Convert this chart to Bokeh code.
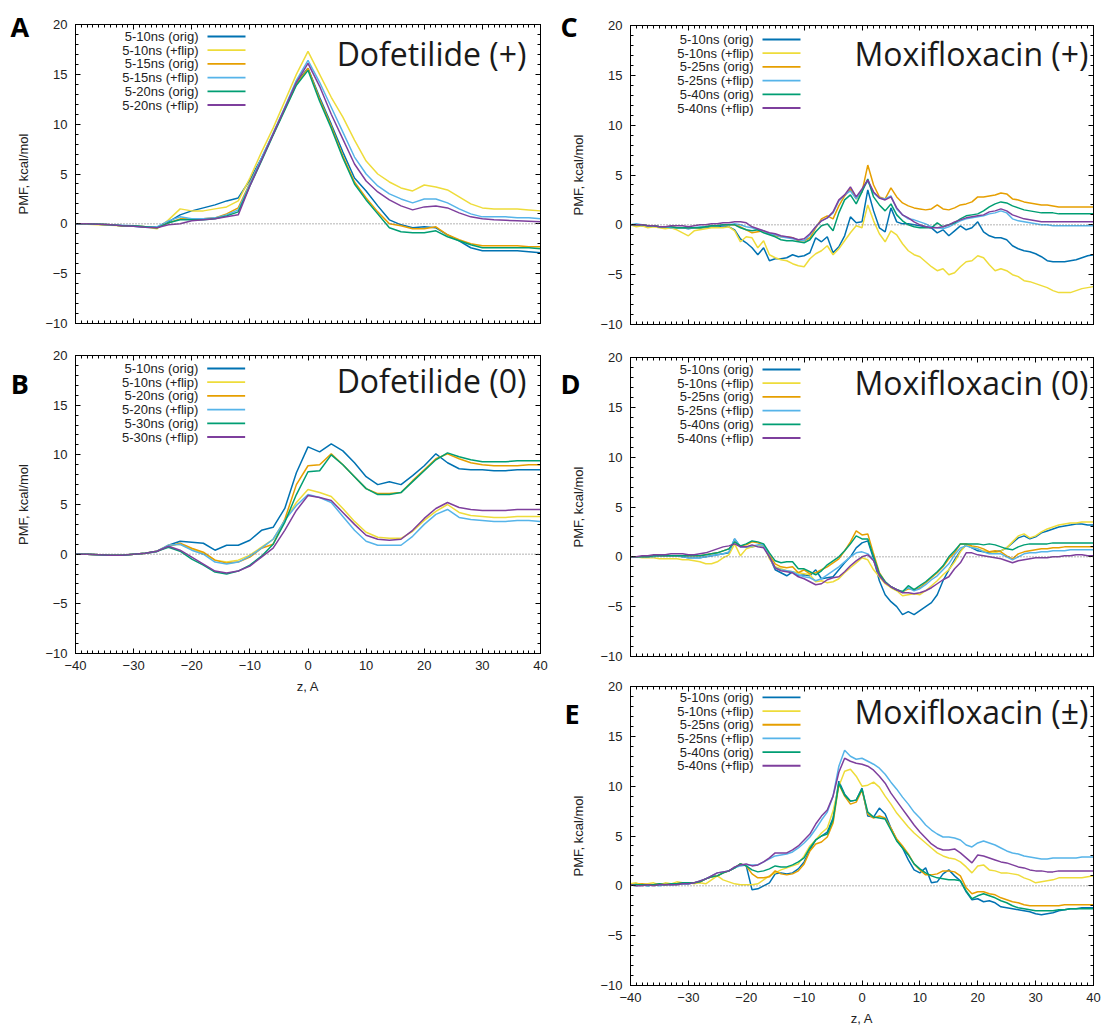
from bokeh.plotting import figure
from bokeh.layouts import row, column
from bokeh.models import Range1d, SingleIntervalTicker, LinearAxis, Label, Span, CustomJSTickFormatter
from bokeh.core.properties import value
from bokeh.embed import file_html
from bokeh.resources import INLINE

# ---------------- data ----------------
Z_DOF = list(range(-40, 41, 2))
Z_MOX = list(range(-40, 41))

COLORS = ["#0072B2", "#EEDC3A", "#E69F00", "#56B4E9", "#009E73", "#7E3F9D"]

LABELS_A = ["5-10ns (orig)", "5-10ns (+flip)", "5-15ns (orig)", "5-15ns (+flip)", "5-20ns (orig)", "5-20ns (+flip)"]
LABELS_B = ["5-10ns (orig)", "5-10ns (+flip)", "5-20ns (orig)", "5-20ns (+flip)", "5-30ns (orig)", "5-30ns (+flip)"]
LABELS_MOX = ["5-10ns (orig)", "5-10ns (+flip)", "5-25ns (orig)", "5-25ns (+flip)", "5-40ns (orig)", "5-40ns (+flip)"]

# Panel A: Dofetilide (+)
A_blue = [0.0, 0.0, -0.05, -0.1, -0.2, -0.25, -0.35, -0.4, 0.2, 0.9,
          1.3, 1.6, 1.9, 2.3, 2.6, 4.4, 6.6, 9.0, 11.6, 14.2,
          15.6, 12.7, 10.0, 7.2, 4.6, 3.3, 1.8, 0.4, -0.1, -0.4,
          -0.3, -0.4, -1.1, -1.7, -2.4, -2.7, -2.7, -2.7, -2.7, -2.8, -2.9]
A_yellow = [0.0, -0.05, -0.1, -0.15, -0.2, -0.2, -0.3, -0.5, 0.4, 1.5,
            1.3, 1.3, 1.5, 1.7, 2.3, 4.6, 7.2, 9.6, 12.3, 15.0,
            17.3, 15.0, 12.7, 10.7, 8.4, 6.3, 5.0, 4.2, 3.6, 3.3,
            3.9, 3.7, 3.4, 2.7, 2.0, 1.6, 1.5, 1.5, 1.5, 1.4, 1.3]
A_orange = [0.0, 0.0, -0.05, -0.1, -0.2, -0.2, -0.3, -0.4, 0.1, 0.5,
            0.5, 0.5, 0.6, 1.0, 1.6, 4.1, 6.5, 9.0, 11.5, 14.0,
            15.6, 12.5, 9.8, 6.8, 4.2, 2.6, 1.2, 0.0, -0.2, -0.5,
            -0.5, -0.3, -1.1, -1.6, -2.0, -2.2, -2.2, -2.2, -2.2, -2.3, -2.3]
A_sky = [0.0, 0.0, -0.05, -0.1, -0.15, -0.2, -0.3, -0.3, 0.3, 0.7,
         0.5, 0.5, 0.6, 0.9, 1.4, 4.0, 6.6, 9.1, 11.7, 14.4,
         16.4, 14.2, 11.7, 9.2, 6.7, 5.0, 3.8, 3.0, 2.5, 2.1,
         2.5, 2.5, 2.1, 1.5, 1.0, 0.7, 0.7, 0.7, 0.6, 0.6, 0.5]
A_green = [0.0, 0.0, -0.05, -0.1, -0.2, -0.2, -0.3, -0.4, 0.1, 0.4,
           0.4, 0.4, 0.5, 0.8, 1.2, 3.8, 6.3, 8.9, 11.4, 13.9,
           15.4, 12.3, 9.6, 6.6, 4.0, 2.4, 1.0, -0.4, -0.8, -0.9,
           -0.9, -0.7, -1.3, -1.7, -2.1, -2.4, -2.4, -2.4, -2.4, -2.4, -2.5]
A_purple = [0.0, 0.0, -0.05, -0.1, -0.2, -0.25, -0.35, -0.4, -0.1, 0.0,
            0.3, 0.4, 0.5, 0.7, 0.9, 3.8, 6.4, 9.0, 11.6, 14.2,
            16.1, 13.8, 11.0, 8.5, 6.0, 4.3, 3.2, 2.4, 1.8, 1.4,
            1.7, 1.8, 1.6, 1.1, 0.7, 0.5, 0.4, 0.35, 0.3, 0.25, 0.2]

# Panel B: Dofetilide (0)
B_blue = [0.0, 0.0, -0.05, -0.1, -0.1, 0.0, 0.1, 0.25, 0.9, 1.3,
          1.2, 1.1, 0.4, 0.9, 0.9, 1.4, 2.4, 2.7, 4.6, 8.2,
          10.8, 10.3, 11.1, 10.4, 9.2, 7.8, 7.0, 7.3, 7.0, 7.9,
          8.9, 10.1, 9.2, 8.6, 8.5, 8.5, 8.4, 8.4, 8.5, 8.5, 8.5]
B_yellow = [0.0, 0.0, -0.05, -0.1, -0.1, 0.0, 0.1, 0.3, 0.9, 1.0,
            0.5, 0.1, -0.6, -0.8, -0.6, -0.1, 0.7, 1.5, 3.4, 5.2,
            6.5, 6.2, 5.8, 4.6, 3.3, 2.2, 1.7, 1.6, 1.6, 2.3,
            3.4, 4.3, 5.0, 4.2, 3.9, 3.8, 3.7, 3.7, 3.8, 3.8, 3.8]
B_orange = [0.0, 0.0, -0.05, -0.1, -0.1, 0.0, 0.1, 0.3, 0.8, 1.1,
            0.6, 0.2, -0.6, -0.9, -0.8, -0.3, 0.6, 1.0, 3.5, 7.0,
            8.9, 9.0, 10.1, 9.0, 7.8, 6.6, 6.1, 6.1, 6.2, 7.4,
            8.5, 9.6, 10.1, 9.6, 9.2, 9.0, 8.9, 8.9, 8.9, 9.0, 9.0]
B_sky = [0.0, 0.0, -0.05, -0.1, -0.1, 0.0, 0.1, 0.3, 0.9, 1.0,
         0.4, 0.0, -0.8, -1.0, -0.8, -0.2, 0.6, 1.5, 3.4, 4.9,
         6.0, 5.7, 5.2, 3.8, 2.4, 1.3, 0.9, 0.9, 0.9, 1.8,
         3.0, 4.0, 4.5, 3.7, 3.5, 3.4, 3.3, 3.3, 3.4, 3.4, 3.3]
B_green = [0.0, 0.0, -0.05, -0.1, -0.1, 0.0, 0.1, 0.3, 0.7, 0.3,
           -0.5, -1.1, -1.8, -2.0, -1.7, -1.1, -0.2, 1.0, 3.2, 6.0,
           8.3, 8.4, 10.0, 9.0, 7.8, 6.6, 6.0, 6.0, 6.2, 7.3,
           8.4, 9.5, 10.2, 9.8, 9.5, 9.3, 9.3, 9.3, 9.4, 9.4, 9.4]
B_purple = [0.0, 0.0, -0.05, -0.1, -0.1, 0.0, 0.1, 0.3, 0.8, 0.4,
            -0.3, -1.0, -1.7, -1.9, -1.7, -1.2, -0.3, 0.6, 2.4, 4.4,
            5.9, 5.7, 5.4, 4.2, 3.0, 1.9, 1.5, 1.4, 1.5, 2.4,
            3.6, 4.6, 5.2, 4.7, 4.5, 4.4, 4.4, 4.4, 4.5, 4.5, 4.5]

# Panel C: Moxifloxacin (+)
C_blue = [0.0, 0.0, -0.1, -0.1, -0.1, -0.2, -0.2, -0.3, -0.3, -0.3,
          -0.4, -0.3, -0.3, -0.3, -0.2, -0.2, -0.1, -0.2, -0.5, -1.4,
          -1.8, -2.3, -3.0, -2.3, -3.6, -3.4, -3.4, -3.3, -3.0, -3.2,
          -3.1, -2.8, -1.3, -1.7, -1.2, -2.8, -2.2, -1.1, 0.8, 0.2,
          0.3, 3.5, 1.4, -0.3, -0.7, 1.7, 0.3, 0.1, 0.1, 0.0,
          -0.1, -0.2, -0.3, -0.8, -0.5, -1.1, -0.6, -0.1, -0.5, -0.3,
          0.3, -0.7, -1.1, -1.3, -1.3, -1.5, -2.1, -2.4, -2.6, -2.7,
          -2.9, -3.2, -3.6, -3.7, -3.7, -3.7, -3.6, -3.5, -3.3, -3.1, -3.0]
C_yellow = [0.0, -0.2, -0.1, -0.3, -0.2, -0.3, -0.4, -0.3, -0.5, -0.8,
            -1.1, -0.6, -0.5, -0.4, -0.3, -0.3, -0.3, -0.2, -0.6, -1.7,
            -1.2, -1.3, -2.3, -1.6, -3.0, -3.3, -3.5, -3.6, -3.9, -4.1,
            -4.2, -3.4, -2.9, -2.6, -2.1, -3.0, -2.4, -1.6, -0.8, -0.1,
            -0.3, 2.0, 0.4, -0.9, -1.7, -0.6, -1.0, -1.9, -2.6, -3.0,
            -3.2, -3.7, -4.2, -4.6, -4.4, -5.0, -4.8, -4.2, -3.7, -3.6,
            -3.1, -3.3, -4.0, -4.6, -4.4, -4.6, -5.0, -5.2, -5.6, -5.7,
            -5.9, -6.1, -6.3, -6.6, -6.8, -6.8, -6.8, -6.6, -6.4, -6.3, -6.2]
C_orange = [0.0, 0.0, 0.0, -0.1, -0.1, -0.2, -0.2, -0.2, -0.3, -0.3,
            -0.3, -0.3, -0.3, -0.2, -0.1, -0.1, 0.0, 0.0, 0.0, -0.2,
            -0.5, -0.8, -0.7, -0.6, -0.9, -1.1, -1.2, -1.2, -1.3, -1.6,
            -1.6, -1.3, -0.3, 0.6, 0.9, 0.6, 1.9, 2.9, 3.6, 2.6,
            3.3, 6.0, 4.0, 2.8, 2.6, 3.7, 2.8, 2.2, 1.9, 1.7,
            1.6, 1.5, 1.6, 2.0, 1.6, 1.5, 1.7, 2.0, 2.1, 2.3,
            2.8, 2.8, 2.9, 3.0, 3.2, 3.1, 2.6, 2.5, 2.3, 2.2,
            2.1, 2.0, 2.0, 1.9, 1.8, 1.8, 1.8, 1.8, 1.8, 1.8, 1.8]
C_sky = [0.0, 0.1, 0.0, -0.1, -0.1, -0.2, -0.2, -0.3, -0.3, -0.3,
         -0.3, -0.3, -0.2, -0.2, -0.1, -0.1, 0.0, 0.0, 0.1, 0.0,
         -0.2, -0.3, -0.5, -0.6, -0.9, -1.0, -1.2, -1.3, -1.4, -1.5,
         -1.6, -1.0, -0.2, 0.4, 0.7, 1.2, 2.4, 3.0, 3.4, 2.6,
         3.5, 4.4, 3.2, 2.7, 2.6, 2.9, 1.6, 1.0, 0.6, 0.5,
         0.3, 0.1, -0.2, -0.3, -0.4, -0.2, 0.1, 0.4, 0.6, 0.7,
         0.8, 0.9, 1.1, 1.2, 1.4, 1.2, 0.6, 0.4, 0.3, 0.2,
         0.1, 0.0, 0.0, -0.1, -0.1, -0.1, -0.1, -0.1, -0.1, -0.1, -0.1]
C_green = [0.0, 0.0, 0.0, -0.1, -0.1, -0.2, -0.2, -0.2, -0.3, -0.3,
           -0.3, -0.3, -0.3, -0.2, -0.1, -0.1, 0.0, 0.0, 0.0, -0.3,
           -0.5, -0.6, -0.5, -0.8, -1.0, -1.2, -1.5, -1.6, -1.6, -1.7,
           -1.8, -1.5, -0.7, -0.1, 0.1, -0.6, 1.2, 2.5, 3.0, 2.1,
           3.3, 4.6, 2.8, 2.0, 1.4, 2.1, 1.0, 0.4, 0.0, -0.2,
           -0.3, -0.3, -0.3, 0.2, -0.2, 0.0, 0.2, 0.6, 0.9, 1.0,
           1.1, 1.4, 1.8, 2.1, 2.3, 2.2, 1.9, 1.7, 1.5, 1.4,
           1.3, 1.2, 1.2, 1.2, 1.1, 1.1, 1.1, 1.1, 1.1, 1.1, 1.1]
C_purple = [0.0, 0.0, 0.0, -0.1, -0.1, -0.2, -0.2, -0.1, -0.1, -0.1,
            -0.2, -0.1, 0.0, 0.0, 0.1, 0.1, 0.2, 0.2, 0.3, 0.3,
            0.2, -0.2, -0.4, -0.6, -0.8, -0.9, -1.1, -1.2, -1.3, -1.5,
            -1.4, -0.9, -0.2, 0.4, 0.7, 1.3, 2.5, 3.0, 3.8, 2.8,
            3.6, 4.5, 3.3, 2.7, 2.5, 2.8, 1.7, 1.0, 0.7, 0.3,
            0.0, -0.2, -0.3, -0.3, -0.2, 0.0, 0.3, 0.5, 0.7, 0.8,
            0.9, 1.0, 1.3, 1.4, 1.6, 1.4, 1.0, 0.8, 0.6, 0.5,
            0.4, 0.3, 0.3, 0.3, 0.3, 0.3, 0.3, 0.3, 0.3, 0.3, 0.3]

# Panel D: Moxifloxacin (0)
D_blue = [0.0, 0.0, 0.0, 0.0, 0.1, 0.1, 0.1, 0.1, 0.1, 0.0,
          -0.1, -0.1, -0.1, 0.0, 0.1, 0.2, 0.3, 0.4, 1.8, 1.0,
          1.0, 1.0, 1.1, 1.1, 0.0, -1.3, -1.6, -1.9, -1.5, -1.9,
          -1.8, -1.9, -1.3, -2.2, -2.1, -2.0, -1.3, -0.6, 0.0, 0.9,
          1.4, 1.6, -0.2, -2.4, -3.8, -4.5, -5.0, -5.8, -5.5, -5.8,
          -5.4, -5.0, -4.6, -3.8, -2.4, -1.3, -0.3, 0.6, 1.2, 0.9,
          0.6, 0.5, 0.4, 0.5, 0.6, 0.9, 1.4, 1.9, 2.1, 1.8,
          2.0, 2.4, 2.6, 2.8, 3.0, 3.1, 3.2, 3.3, 3.3, 3.2, 3.2]
D_yellow = [0.0, 0.0, -0.1, -0.1, -0.1, -0.2, -0.2, -0.2, -0.2, -0.3,
            -0.3, -0.4, -0.5, -0.7, -0.7, -0.5, -0.1, 0.2, 1.3, 0.1,
            0.8, 1.0, 1.1, 1.2, -0.2, -1.0, -1.2, -1.4, -1.5, -1.6,
            -1.7, -1.8, -2.5, -2.4, -2.6, -2.5, -2.2, -1.6, -1.1, -0.6,
            -0.1, -0.3, -1.3, -2.0, -2.7, -3.1, -3.4, -3.9, -3.8, -3.7,
            -3.8, -3.4, -2.9, -2.4, -1.8, -1.3, -0.5, 0.5, 1.2, 1.0,
            0.8, 0.6, 0.5, 0.4, 0.6, 0.9, 1.5, 2.1, 2.3, 1.9,
            2.1, 2.5, 2.8, 3.0, 3.2, 3.3, 3.4, 3.4, 3.5, 3.5, 3.5]
D_orange = [0.0, 0.0, 0.0, 0.0, 0.1, 0.1, 0.1, 0.1, 0.1, 0.1,
            0.1, 0.1, 0.1, 0.2, 0.3, 0.4, 0.6, 0.8, 1.5, 1.1,
            1.2, 1.5, 1.4, 1.2, 0.2, -0.7, -1.0, -1.1, -1.0, -1.6,
            -1.3, -1.7, -1.6, -1.3, -1.0, -0.6, -0.2, 0.6, 1.5, 2.6,
            2.2, 2.3, 0.3, -1.6, -2.5, -3.0, -3.3, -3.5, -3.2, -3.3,
            -3.1, -2.6, -2.1, -1.6, -1.0, -0.2, 0.4, 1.3, 1.3, 1.1,
            1.0, 0.8, 0.5, 0.6, 0.5, 0.1, -0.2, 0.3, 0.5, 0.6,
            0.7, 0.8, 0.8, 0.9, 0.9, 1.0, 1.0, 1.0, 1.0, 1.0, 1.0]
D_sky = [0.0, 0.0, 0.0, 0.0, 0.0, 0.1, 0.1, 0.1, 0.1, 0.0,
         -0.1, -0.1, -0.1, 0.0, 0.1, 0.2, 0.3, 0.5, 1.8, 1.0,
         1.0, 1.1, 1.2, 1.2, 0.0, -1.1, -1.3, -1.4, -1.5, -1.8,
         -2.0, -2.1, -2.4, -2.2, -1.8, -1.4, -1.0, -0.5, 0.0, 0.4,
         0.5, 0.3, -0.3, -1.8, -2.5, -3.0, -3.3, -3.5, -3.1, -3.4,
         -3.2, -2.8, -2.3, -1.9, -1.3, -0.7, 0.2, 0.9, 1.1, 0.9,
         0.8, 0.5, 0.3, 0.3, 0.3, 0.0, -0.3, 0.0, 0.3, 0.4,
         0.4, 0.5, 0.5, 0.6, 0.6, 0.6, 0.7, 0.7, 0.7, 0.7, 0.7]
D_green = [0.0, 0.0, 0.0, 0.0, 0.1, 0.1, 0.1, 0.1, 0.1, 0.1,
           0.1, 0.1, 0.1, 0.2, 0.3, 0.4, 0.6, 0.8, 1.5, 1.1,
           1.3, 1.6, 1.5, 1.3, 0.4, -0.4, -0.6, -0.5, -0.5, -1.2,
           -1.2, -1.5, -1.8, -1.4, -0.8, -0.4, 0.0, 0.6, 1.3, 2.1,
           1.8, 1.8, 0.0, -1.7, -2.5, -3.0, -3.3, -3.5, -2.9, -3.3,
           -2.9, -2.5, -2.0, -1.5, -0.9, 0.0, 0.6, 1.3, 1.3, 1.3,
           1.3, 1.2, 1.3, 1.2, 1.0, 0.8, 0.7, 1.0, 1.2, 1.3,
           1.3, 1.3, 1.3, 1.4, 1.4, 1.4, 1.4, 1.4, 1.4, 1.4, 1.4]
D_purple = [0.0, 0.0, 0.1, 0.1, 0.2, 0.2, 0.2, 0.3, 0.3, 0.3,
            0.2, 0.2, 0.3, 0.4, 0.6, 0.8, 1.0, 1.1, 1.3, 1.0,
            1.0, 1.2, 1.0, 0.9, 0.0, -1.1, -1.4, -1.5, -1.6, -2.0,
            -2.2, -2.5, -2.8, -2.7, -2.3, -2.1, -2.0, -1.5, -0.9, -0.4,
            0.0, 0.2, -0.4, -1.9, -2.6, -3.0, -3.3, -3.6, -3.6, -3.7,
            -3.6, -3.4, -3.1, -2.7, -2.3, -2.0, -1.2, -0.6, 0.4, 0.4,
            0.2, 0.1, 0.0, -0.1, -0.2, -0.4, -0.6, -0.4, -0.3, -0.2,
            -0.1, -0.1, -0.1, 0.0, 0.0, 0.1, 0.1, 0.2, 0.2, 0.1, 0.1]

# Panel E: Moxifloxacin (+/-)
E_blue = [0.1, 0.2, 0.1, 0.0, 0.1, 0.1, 0.2, 0.1, 0.2, 0.2,
          0.2, 0.3, 0.4, 0.7, 0.9, 1.0, 1.3, 1.5, 1.8, 2.2,
          2.0, -0.4, -0.3, 0.0, 0.3, 1.2, 1.3, 1.2, 1.3, 1.7,
          2.4, 3.6, 4.6, 5.0, 5.4, 6.8, 10.5, 9.2, 8.5, 8.6,
          9.8, 7.0, 6.9, 7.8, 7.2, 5.8, 4.6, 3.8, 2.6, 1.6,
          1.3, 1.8, 0.3, 0.4, 1.2, 1.6, 1.0, 0.5, -0.6, -1.4,
          -1.3, -1.6, -1.5, -1.7, -2.1, -2.2, -2.3, -2.4, -2.5, -2.6,
          -2.8, -2.9, -2.8, -2.7, -2.5, -2.4, -2.3, -2.3, -2.2, -2.2, -2.2]
E_yellow = [0.2, 0.3, 0.1, 0.2, 0.3, 0.1, 0.3, 0.2, 0.4, 0.3,
            0.3, 0.2, 0.3, 0.2, 0.6, 1.0, 0.6, 0.4, 0.2, 0.1,
            0.1, 0.1, 0.2, 0.6, 1.0, 1.3, 1.6, 1.8, 2.0, 2.2,
            3.0, 4.0, 4.6, 5.3, 5.8, 7.5, 10.0, 11.5, 11.7, 11.0,
            10.0, 10.1, 10.4, 9.9, 9.0, 8.2, 7.3, 6.6, 5.9, 5.3,
            4.8, 4.3, 3.8, 3.3, 3.0, 2.8, 2.7, 2.4, 1.9, 1.3,
            2.0, 2.1, 1.6, 1.5, 1.3, 1.3, 1.2, 1.1, 0.8, 0.6,
            0.3, 0.4, 0.5, 0.6, 0.8, 0.8, 0.8, 0.8, 0.8, 0.9, 1.0]
E_orange = [0.1, 0.1, 0.2, 0.1, 0.1, 0.2, 0.1, 0.2, 0.2, 0.3,
            0.3, 0.3, 0.4, 0.7, 0.9, 1.0, 1.3, 1.5, 1.8, 2.2,
            2.0, 1.2, 0.8, 0.8, 0.9, 1.5, 1.2, 1.1, 1.2, 1.5,
            2.2, 3.5, 4.2, 4.4, 4.9, 6.3, 10.2, 9.0, 8.2, 8.4,
            9.6, 7.2, 6.8, 7.0, 6.8, 5.8, 4.7, 4.0, 3.2, 2.2,
            1.6, 1.1, 1.1, 1.2, 1.5, 1.5, 1.4, 1.0, -0.2, -0.8,
            -0.6, -0.6, -0.8, -0.9, -1.2, -1.4, -1.6, -1.7, -1.9, -2.0,
            -2.0, -2.0, -2.0, -2.0, -2.0, -1.9, -1.9, -1.9, -1.9, -1.9, -1.9]
E_sky = [0.1, 0.0, 0.1, 0.0, 0.1, 0.0, 0.1, 0.1, 0.1, 0.2,
         0.2, 0.3, 0.5, 0.7, 1.0, 1.3, 1.4, 1.5, 1.8, 2.0,
         2.1, 2.1, 2.1, 2.4, 2.7, 3.0, 3.1, 3.2, 3.4, 3.8,
         4.3, 4.9, 5.7, 6.6, 7.4, 9.0, 12.0, 13.6, 13.0, 12.7,
         12.8, 12.5, 12.2, 11.8, 11.2, 10.4, 9.7, 8.9, 8.2, 7.4,
         6.8, 6.1, 5.6, 5.2, 4.9, 4.9, 4.8, 4.6, 4.1, 3.9,
         4.3, 4.5, 4.3, 4.1, 3.8, 3.5, 3.3, 3.2, 3.0, 2.9,
         2.8, 2.7, 2.7, 2.8, 2.8, 2.8, 2.8, 2.8, 2.9, 2.9, 2.9]
E_green = [0.1, 0.1, 0.1, 0.1, 0.1, 0.2, 0.1, 0.2, 0.2, 0.3,
           0.3, 0.3, 0.4, 0.7, 0.9, 1.0, 1.3, 1.5, 1.8, 2.2,
           2.0, 1.6, 1.4, 1.5, 1.7, 2.0, 1.9, 1.9, 2.1, 2.4,
           2.8, 3.8, 4.6, 5.0, 5.2, 6.6, 10.3, 9.1, 8.5, 8.6,
           9.7, 7.4, 6.9, 6.8, 6.7, 5.6, 4.5, 3.8, 3.1, 2.2,
           1.7, 1.3, 1.0, 0.8, 0.7, 0.6, 0.6, 0.5, -0.5, -1.3,
           -1.0, -0.8, -1.0, -1.2, -1.5, -1.7, -2.0, -2.2, -2.3, -2.4,
           -2.5, -2.5, -2.5, -2.5, -2.4, -2.4, -2.3, -2.3, -2.3, -2.3, -2.3]
E_purple = [0.1, 0.0, 0.0, 0.1, 0.0, 0.1, 0.1, 0.1, 0.1, 0.2,
            0.2, 0.3, 0.5, 0.7, 1.0, 1.3, 1.4, 1.5, 1.9, 2.1,
            2.2, 2.0, 2.1, 2.4, 2.8, 3.3, 3.3, 3.3, 3.6, 4.0,
            4.6, 5.2, 6.2, 7.0, 7.6, 9.0, 11.4, 12.8, 12.5, 12.3,
            12.2, 12.0, 11.6, 11.0, 10.3, 9.3, 8.5, 7.7, 6.9, 6.1,
            5.4, 4.8, 4.2, 3.8, 3.6, 3.6, 3.7, 3.3, 2.8, 2.3,
            3.1, 3.0, 2.8, 2.6, 2.4, 2.3, 2.1, 1.9, 1.8, 1.6,
            1.5, 1.5, 1.4, 1.4, 1.5, 1.5, 1.5, 1.5, 1.5, 1.5, 1.5]

X_TICK_STEP = 10
Y_TICK_STEP = 5

FONT = "Liberation Sans"
TXT = "#222222"


def style_axis(ax, interval, minor, labels):
    ax.ticker = SingleIntervalTicker(interval=interval, num_minor_ticks=minor)
    ax.major_tick_in = 5
    ax.major_tick_out = 0
    ax.minor_tick_in = 3
    ax.minor_tick_out = 0
    ax.axis_line_color = "black"
    ax.major_tick_line_color = "black"
    ax.minor_tick_line_color = "black"
    ax.major_label_text_font = FONT
    ax.major_label_text_color = TXT
    if labels:
        ax.major_label_text_font_size = "13px"
        ax.major_label_standoff = 7
    else:
        ax.formatter = CustomJSTickFormatter(code="return ''")
        ax.major_label_text_font_size = "1px"
        ax.major_label_standoff = 0


def make_panel(width, height, left, right, top, bottom, z, series, labels,
               title, title_dx, title_mid, letter, letter_x, letter_mid,
               leg_r0, xlabels):
    fw = width - left - right
    fh = height - top - bottom
    p = figure(width=width, height=height, x_range=Range1d(-40, 40), y_range=Range1d(-10, 20),
               output_backend="svg", toolbar_location=None,
               min_border_left=left, min_border_right=right,
               min_border_top=top, min_border_bottom=bottom,
               outline_line_color="black", outline_line_width=1,
               background_fill_color="white", border_fill_color="white")
    p.xgrid.visible = False
    p.ygrid.visible = False

    def dx(px):
        return -40 + (px - left) * 80.0 / fw

    def dy(py):
        return 20 - (py - top) * 30.0 / fh

    style_axis(p.xaxis[0], X_TICK_STEP, 10, xlabels)
    style_axis(p.yaxis[0], Y_TICK_STEP, 5, True)
    p.yaxis[0].axis_label = "PMF, kcal/mol"
    p.yaxis[0].axis_label_text_font = FONT
    p.yaxis[0].axis_label_text_font_size = "13px"
    p.yaxis[0].axis_label_text_font_style = "normal"
    p.yaxis[0].axis_label_text_color = TXT
    p.yaxis[0].axis_label_standoff = 11
    p.yaxis[0].major_label_standoff = 8
    if xlabels:
        p.xaxis[0].axis_label = "z, A"
        p.xaxis[0].axis_label_text_font = FONT
        p.xaxis[0].axis_label_text_font_size = "13px"
        p.xaxis[0].axis_label_text_font_style = "normal"
        p.xaxis[0].axis_label_text_color = TXT
        p.xaxis[0].axis_label_standoff = 6

    top_ax = LinearAxis()
    right_ax = LinearAxis()
    p.add_layout(top_ax, "above")
    p.add_layout(right_ax, "right")
    style_axis(top_ax, X_TICK_STEP, 10, False)
    style_axis(right_ax, Y_TICK_STEP, 5, False)

    p.add_layout(Span(location=0, dimension="width", line_color="#666666",
                      line_dash="1 2", line_width=1))

    for vals, col in zip(series, COLORS):
        p.line(z, vals, line_color=col, line_width=1.5)

    # legend (text right, sample line to the right)
    for i, (lab, col) in enumerate(zip(labels, COLORS)):
        yy = dy(top + leg_r0 + i * 13.7)
        p.add_layout(Label(x=dx(left + 123), y=yy, text=lab, text_align="right",
                           text_baseline="middle", text_font=FONT,
                           text_font_size="13px", text_color=TXT))
        p.segment(x0=[dx(left + 132)], y0=[yy], x1=[dx(left + 170)], y1=[yy],
                  line_color=col, line_width=1.8)

    p.add_layout(Label(x=dx(left + fw - title_dx), y=dy(top + title_mid), text=title,
                       text_align="right", text_baseline="middle",
                       text_font="Open Sans", text_font_size="32px", text_color="#1a1a1a"))
    # panel letter: a text glyph on the overlay level so it is not clipped to the frame
    p.text(x=[dx(letter_x)], y=[dy(letter_mid)], text=[letter],
           text_align="left", text_baseline="middle",
           text_font=value("Open Sans"), text_font_style="bold",
           text_font_size="27px", text_color="black", level="overlay")
    return p


pA = make_panel(560, 337, 75, 20, 24, 14, Z_DOF,
                [A_blue, A_yellow, A_orange, A_sky, A_green, A_purple], LABELS_A,
                "Dofetilide (+)", 14, 29, "A", 10, 26, 12, False)
pB = make_panel(560, 368, 75, 19, 18, 52, Z_DOF,
                [B_blue, B_yellow, B_orange, B_sky, B_green, B_purple], LABELS_B,
                "Dofetilide (0)", 14, 25, "B", 10, 46, 13, True)
pC = make_panel(545, 338, 70, 12, 25, 14, Z_MOX,
                [C_blue, C_yellow, C_orange, C_sky, C_green, C_purple], LABELS_MOX,
                "Moxifloxacin (+)", 5, 28, "C", 0, 26, 14, False)
pD = make_panel(545, 332, 70, 12, 19, 14, Z_MOX,
                [D_blue, D_yellow, D_orange, D_sky, D_green, D_purple], LABELS_MOX,
                "Moxifloxacin (0)", 5, 25, "D", 0, 45, 12, False)
pE = make_panel(545, 358, 70, 12, 16, 42, Z_MOX,
                [E_blue, E_yellow, E_orange, E_sky, E_green, E_purple], LABELS_MOX,
                "Moxifloxacin (\u00b1)", 5, 25, "E", 4, 43, 11, True)

layout = row(column(pA, pB), column(pC, pD, pE))
open("out.html", "w").write(file_html(layout, INLINE))
